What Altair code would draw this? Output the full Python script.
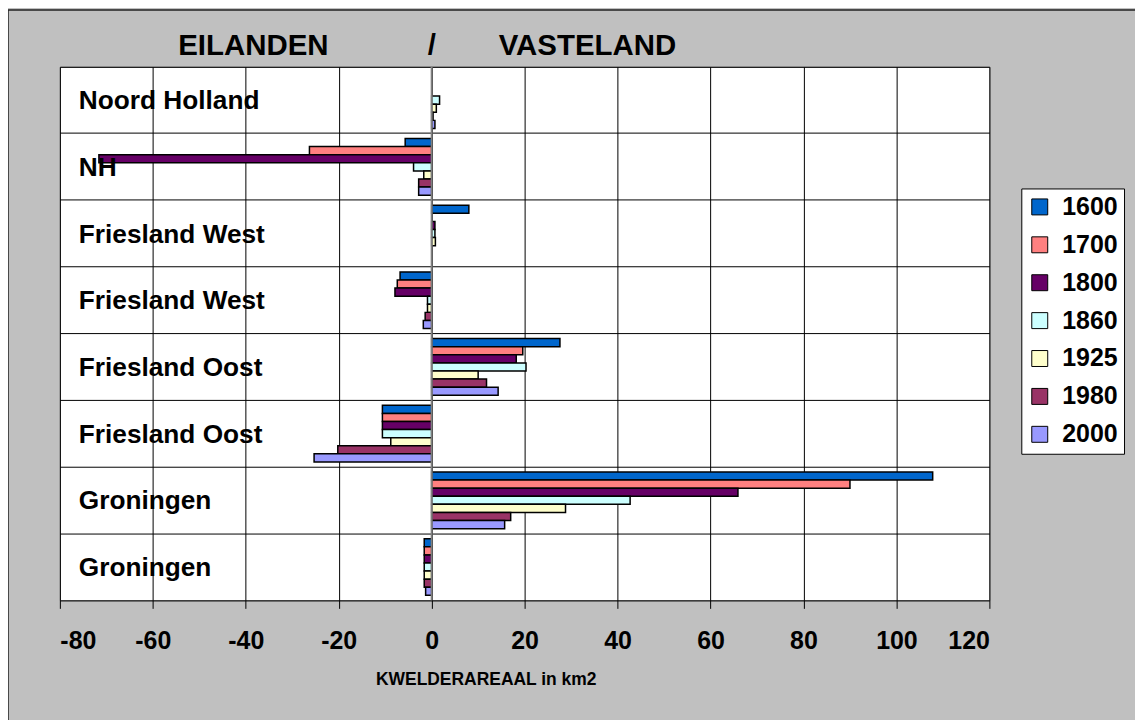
import altair as alt
import pandas as pd

categories = ["Noord Holland", "NH", "Friesland West", "Friesland West",
              "Friesland Oost", "Friesland Oost", "Groningen", "Groningen"]
cat_ids = [f"c{i}" for i in range(len(categories))]
years = ["1600", "1700", "1800", "1860", "1925", "1980", "2000"]
colors = ["#0066CC", "#FF8080", "#660066", "#CCFFFF", "#FFFFCC", "#993366", "#9999FF"]

v1600 = [0.0, -5.7, 8.0, -6.8, 27.6, -10.6, 107.8, -1.6]
v1700 = [0.0, -26.3, 0.0, -7.4, 19.6, -10.6, 90.0, -1.6]
v1800 = [0.0, -71.6, 0.7, -7.9, 18.2, -10.6, 65.9, -1.6]
v1860 = [1.7, -3.9, 0.7, -0.9, 20.3, -10.6, 42.7, -1.6]
v1925 = [1.0, -1.7, 0.8, -0.9, 10.0, -8.8, 28.8, -1.6]
v1980 = [0.3, -2.8, 0.0, -1.4, 11.8, -20.2, 17.0, -1.6]
v2000 = [0.7, -2.8, 0.0, -1.8, 14.3, -25.3, 15.7, -1.3]

x_ticks = list(range(-80, 121, 20))

series = dict(zip(years, [v1600, v1700, v1800, v1860, v1925, v1980, v2000]))
rows = []
for y, vals in series.items():
    for cid, val in zip(cat_ids, vals):
        rows.append({"cid": cid, "year": y, "value": val})
df = pd.DataFrame(rows)
lab_df = pd.DataFrame({"cid": cat_ids, "label": categories})

FONT = "Liberation Sans"

y_enc = alt.Y("cid:N",
              scale=alt.Scale(domain=cat_ids, paddingInner=0, paddingOuter=0),
              axis=alt.Axis(grid=True, bandPosition=0, gridColor="black", gridWidth=1,
                            gridOpacity=1, ticks=False, labels=False, domain=False, title=None))
x_scale = alt.Scale(domain=[-80, 120], nice=False, zero=False)

bars = alt.Chart(df).mark_bar(stroke="black").encode(
    x=alt.X("value:Q", scale=x_scale,
            axis=alt.Axis(values=x_ticks, grid=True, gridColor="black", gridWidth=1, gridOpacity=1,
                          domainColor="black", tickColor="black", tickSize=8,
                          labelExpr="'' + datum.value",
                          labelFont=FONT, labelFontSize=25, labelFontWeight="bold", labelColor="black",
                          labelPadding=20,
                          title="KWELDERAREAAL in km2", titleFont=FONT, titleFontSize=17.5,
                          titleFontWeight="bold", titleColor="black", titleX=427, titleY=79,
                          titleBaseline="middle")),
    y=y_enc,
    yOffset=alt.YOffset("year:N", sort=years,
                        scale=alt.Scale(paddingInner=0, paddingOuter=0.62)),
    color=alt.Color("year:N", sort=years,
                    scale=alt.Scale(domain=years, range=colors),
                    legend=alt.Legend(title=None, orient="none", legendX=964, legendY=122,
                                      symbolType="square", symbolSize=256,
                                      symbolStrokeColor="black", symbolStrokeWidth=1,
                                      labelFont=FONT, labelFontSize=25, labelFontWeight="bold",
                                      labelColor="black", labelOffset=10, rowPadding=12,
                                      padding=6, fillColor="white", strokeColor="black")),
    strokeWidth=alt.condition(alt.datum.value == 0, alt.value(0), alt.value(1.5)),
)

labels = alt.Chart(lab_df).mark_text(align="left", baseline="middle", font=FONT, fontSize=26.3,
                                     fontWeight="bold", color="black", dy=1).encode(
    y=alt.Y("cid:N", scale=alt.Scale(domain=cat_ids, paddingInner=0, paddingOuter=0)),
    x=alt.value(19),
    text="label:N",
)

zero = alt.Chart(alt.Data(values=[{"v": 0}])).mark_rule(color="#808080", strokeWidth=2).encode(
    x=alt.X("v:Q", scale=x_scale)
)

title_parts = [("EILANDEN", 194), ("/", 373), ("VASTELAND", 529)]
title_layers = [
    alt.Chart(alt.Data(values=[{"t": t}])).mark_text(font=FONT, fontSize=29.5, fontWeight="bold",
                                                     color="black", align="center",
                                                     baseline="middle").encode(
        text="t:N", x=alt.value(px), y=alt.value(-21))
    for t, px in title_parts
]

border = alt.Chart(alt.Data(values=[{"a": 1}])).mark_rect(fill=None, fillOpacity=0, stroke="#222222",
                                                        strokeWidth=1.5).encode(
    x=alt.value(-52), x2=alt.value(1500), y=alt.value(-57), y2=alt.value(1000)
)

chart = alt.layer(bars, zero, labels, *title_layers, border).properties(
    width=932, height=535,
    padding={"left": 52, "top": 58, "right": 146, "bottom": 119},
    autosize=alt.AutoSizeParams(type="none"),
    background="#C0C0C0",
).configure_view(fill="white", stroke="#808080", strokeWidth=1)

chart.save("out.html", embed_options={"renderer": "svg", "actions": False})
